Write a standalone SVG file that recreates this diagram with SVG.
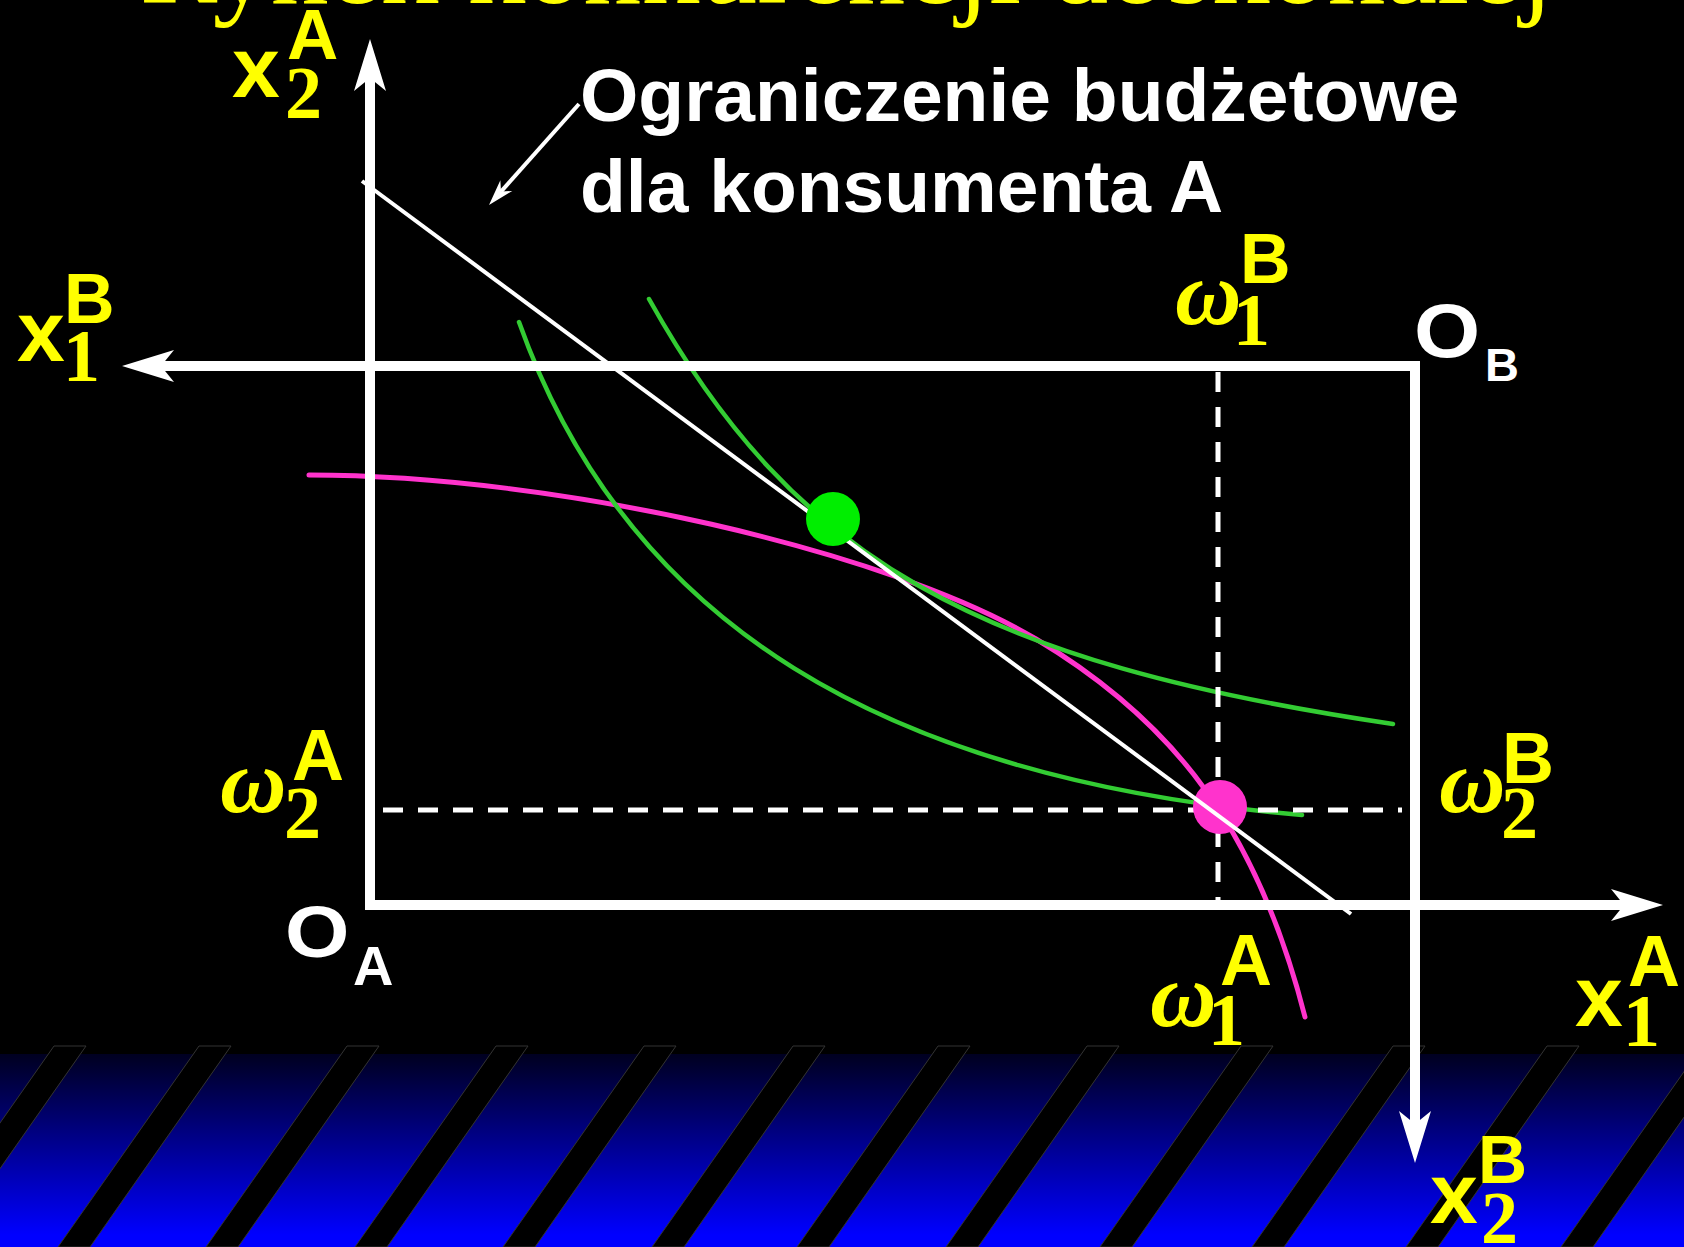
<svg xmlns="http://www.w3.org/2000/svg" width="1684" height="1247" viewBox="0 0 1684 1247">
<defs>
<style>
.lbl{fill:#ffff00;font-family:"Liberation Sans",Arial,sans-serif;font-weight:bold}
.dig{fill:#ffff00;font-family:"Liberation Serif","Times New Roman",serif;font-weight:bold}
.om{fill:#ffff00;font-family:"Liberation Serif","Times New Roman",serif;font-weight:bold;font-style:italic;font-size:92px}
.wt{fill:#ffffff;font-family:"Liberation Sans",Arial,sans-serif;font-weight:bold}
.axis{fill:none;stroke:#ffffff;stroke-width:10;stroke-linejoin:miter}
.dash{fill:none;stroke:#ffffff;stroke-width:5;stroke-dasharray:20 15}
.green{fill:none;stroke:#33cc33;stroke-width:4.5;stroke-linecap:round}
.mag{fill:none;stroke:#ff33cc;stroke-width:5;stroke-linecap:round}
.stripe{fill:#000000;stroke:#333333;stroke-width:1}
</style>
<linearGradient id="band" gradientUnits="userSpaceOnUse" x1="0" y1="1054" x2="0" y2="1235">
<stop offset="0" stop-color="#000020"/>
<stop offset="1" stop-color="#0000ff"/>
</linearGradient>
<marker id="axArrow" markerUnits="userSpaceOnUse" viewBox="-55 -20 60 40" refX="-39" refY="0" markerWidth="60" markerHeight="40" orient="auto-start-reverse">
<path d="M0,0 L-52,-16 L-39,0 L-52,16 Z" fill="#ffffff"/>
</marker>
<marker id="smArrow" markerUnits="userSpaceOnUse" viewBox="-30 -12 34 24" refX="-18" refY="0" markerWidth="34" markerHeight="24" orient="auto">
<path d="M0,0 L-26,-8 L-18,0 L-26,8 Z" fill="#ffffff"/>
</marker>
</defs>

<rect x="0" y="0" width="1684" height="1247" fill="#000000"/>

<g id="title">
<text x="140" y="3" font-family="'Liberation Serif','Times New Roman',serif" font-size="116" fill="#ffff00">Rynek konkurencji doskonałej</text>
</g>

<g id="band">
<rect x="0" y="1054" width="1684" height="193" fill="url(#band)"/>
<polygon class="stripe" points="54,1046 86,1046 -55,1247 -87,1247"/>
<polygon class="stripe" points="199,1046 231,1046 90,1247 58,1247"/>
<polygon class="stripe" points="347,1046 379,1046 238,1247 206,1247"/>
<polygon class="stripe" points="496,1046 528,1046 387,1247 355,1247"/>
<polygon class="stripe" points="644,1046 676,1046 535,1247 503,1247"/>
<polygon class="stripe" points="793,1046 825,1046 684,1247 652,1247"/>
<polygon class="stripe" points="938,1046 970,1046 829,1247 797,1247"/>
<polygon class="stripe" points="1087,1046 1119,1046 978,1247 946,1247"/>
<polygon class="stripe" points="1241,1046 1273,1046 1132,1247 1100,1247"/>
<polygon class="stripe" points="1393,1046 1425,1046 1284,1247 1252,1247"/>
<polygon class="stripe" points="1547,1046 1579,1046 1438,1247 1406,1247"/>
<polygon class="stripe" points="1702,1046 1734,1046 1593,1247 1561,1247"/>
</g>

<g id="curves">
<path id="mag-curve" class="mag" d="M309,475 C559,475 890,551.8 1036,639 C1173.4,721.1 1256.8,828 1305,1017"/>
<path id="green-inner" class="green" d="M519,322 C626.2,623.4 883.7,779.3 1302,815"/>
<path id="green-outer" class="green" d="M649,299 C795.4,560.9 977.6,662.3 1393,724"/>
</g>

<g id="connectors">
<polyline id="axes-A" class="axis" points="370,78 370,905 1624,905" marker-start="url(#axArrow)" marker-end="url(#axArrow)"/>
<polyline id="axes-B" class="axis" points="161,366 1415,366 1415,1124" marker-start="url(#axArrow)" marker-end="url(#axArrow)"/>
<line class="dash" x1="1218" y1="372" x2="1218" y2="902"/>
<line class="dash" x1="383" y1="810" x2="1402" y2="810"/>
<line id="pointer" x1="579" y1="104" x2="501" y2="191.6" stroke="#ffffff" stroke-width="4" marker-end="url(#smArrow)"/>
</g>

<g id="endowment-dot">
<circle cx="1220" cy="807" r="27" fill="#ff33cc"/>
</g>
<g id="budget-line">
<line x1="362" y1="181" x2="1351" y2="914" stroke="#ffffff" stroke-width="4"/>
</g>
<g id="equilibrium-dot">
<circle cx="833" cy="519" r="27" fill="#00ee00"/>
</g>

<g id="annotation">
<text class="wt" x="580" y="121" font-size="75">Ograniczenie budżetowe</text>
<text class="wt" x="580" y="212" font-size="75">dla konsumenta A</text>
</g>

<g id="label-x2A">
<text class="lbl" x="232" y="97" font-size="86">x</text>
<text class="dig" x="285" y="118" font-size="74">2</text>
<text class="lbl" x="287" y="59" font-size="71">A</text>
</g>
<g id="label-x1B">
<text class="lbl" x="17" y="361" font-size="86">x</text>
<text class="dig" x="63" y="381" font-size="74">1</text>
<text class="lbl" x="64" y="323" font-size="70">B</text>
</g>
<g id="label-w1B">
<text class="om" x="1175" y="324">ω</text>
<text class="dig" x="1233" y="345" font-size="74">1</text>
<text class="lbl" x="1240" y="283" font-size="70">B</text>
</g>
<g id="label-OB">
<text class="wt" x="1414" y="357" font-size="76" transform="translate(1414 0) scale(1.12 1) translate(-1414 0)">O</text>
<text class="wt" x="1485" y="381" font-size="47">B</text>
</g>
<g id="label-OA">
<text class="wt" x="285" y="957" font-size="72" transform="translate(285 0) scale(1.15 1) translate(-285 0)">O</text>
<text class="wt" x="353" y="985" font-size="56">A</text>
</g>
<g id="label-w2A">
<text class="om" x="220" y="812">ω</text>
<text class="dig" x="284" y="838" font-size="74">2</text>
<text class="lbl" x="292" y="780" font-size="72">A</text>
</g>
<g id="label-w2B">
<text class="om" x="1439" y="812">ω</text>
<text class="dig" x="1501" y="838" font-size="74">2</text>
<text class="lbl" x="1502" y="783" font-size="72">B</text>
</g>
<g id="label-w1A">
<text class="om" x="1150" y="1026">ω</text>
<text class="dig" x="1208" y="1045" font-size="74">1</text>
<text class="lbl" x="1220" y="985" font-size="72">A</text>
</g>
<g id="label-x1A">
<text class="lbl" x="1575" y="1026" font-size="86">x</text>
<text class="dig" x="1623" y="1046" font-size="74">1</text>
<text class="lbl" x="1628" y="986" font-size="72">A</text>
</g>
<g id="label-x2B">
<text class="lbl" x="1430" y="1223" font-size="86">x</text>
<text class="dig" x="1481" y="1243" font-size="74">2</text>
<text class="lbl" x="1478" y="1183" font-size="68">B</text>
</g>
</svg>
